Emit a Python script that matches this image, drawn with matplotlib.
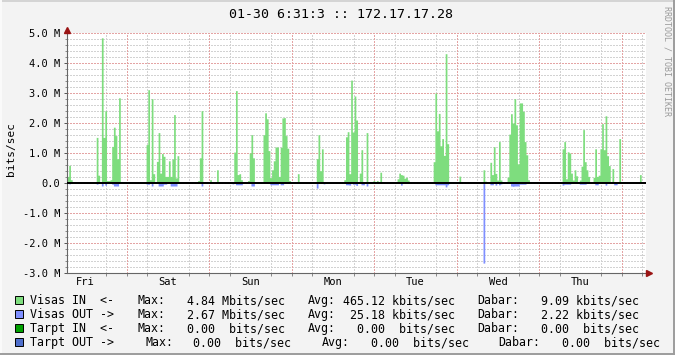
import matplotlib
matplotlib.use("Agg")
import matplotlib.pyplot as plt
import numpy as np
from matplotlib.lines import Line2D
from matplotlib.patches import Rectangle
from matplotlib.ticker import FixedLocator, FuncFormatter, MultipleLocator
from matplotlib.transforms import offset_copy

# half-hour slots counted from the left edge of the graph, values in Mbit/s
IN_SLOTS = [0, 1, 2, 17, 18, 20, 21, 22, 23, 24, 25, 26, 27, 28, 29, 30, 35,
            46, 47, 48, 49, 50, 51, 52, 53, 54, 55, 56, 57, 58, 59, 60, 61, 62, 63, 64,
            76, 77, 78, 83, 87,
            95, 97, 98, 99, 100, 101, 105, 106, 107, 108,
            114, 115, 116, 117, 118, 119, 120, 121, 122, 123, 124, 125, 126, 127, 128, 129,
            134, 145, 146, 147, 148,
            161, 162, 163, 164, 165, 166, 167, 168, 170, 171, 174, 178, 180, 182,
            192, 193, 194, 195, 196, 197, 198,
            213, 214, 215, 216, 217, 218, 219, 220, 221, 228,
            242, 243, 246, 247, 248, 249, 250, 251, 252,
            256, 257, 258, 259, 260, 261, 262, 263, 264, 265, 266, 267, 268,
            288, 289, 290, 291, 292, 293, 294, 295, 296, 298, 299, 300, 301, 302, 303,
            306, 307, 308, 309, 310, 311, 312, 313, 314, 315, 317, 321, 333]
IN_MBITS = [0.22, 0.59, 0.11, 1.52, 0.26, 4.84, 1.52, 2.41, 0.08, 0.08, 0.11, 1.22, 1.86, 1.58, 0.81, 2.84, 0.05,
            1.28, 3.11, 0.11, 2.81, 0.31, 0.05, 0.72, 1.68, 0.33, 0.98, 0.89, 0.22, 0.22, 0.74, 0.22, 0.80, 2.28, 0.17, 0.91,
            0.08, 0.84, 2.41, 0.11, 0.44,
            0.05, 1.03, 3.08, 0.28, 0.31, 0.11, 0.08, 1.00, 1.61, 0.84,
            1.61, 2.34, 2.14, 1.08, 0.18, 0.44, 0.74, 1.20, 1.20, 0.22, 1.19, 2.17, 2.18, 1.58, 1.16, 0.08,
            0.31, 0.81, 1.61, 0.41, 1.14,
            0.11, 1.54, 1.71, 0.31, 3.43, 1.70, 2.90, 2.10, 0.33, 1.11, 1.68, 0.08, 0.08, 0.36,
            0.14, 0.33, 0.28, 0.26, 0.16, 0.19, 0.10,
            0.71, 3.00, 1.74, 2.32, 1.24, 1.48, 0.92, 4.31, 1.31, 0.23,
            0.44, 0.06, 0.69, 0.28, 1.21, 0.32, 0.10, 1.38, 0.10,
            0.20, 1.63, 2.31, 2.00, 2.81, 1.94, 0.64, 2.67, 2.67, 2.39, 1.38, 0.94, 0.11,
            1.14, 1.38, 0.14, 1.04, 1.00, 0.33, 0.10, 0.44, 0.24, 0.10, 0.56, 1.78, 0.71, 0.44, 0.22,
            0.19, 1.14, 0.22, 0.26, 1.14, 1.98, 1.11, 2.24, 0.91, 0.58, 0.48, 1.48, 0.28]

OUT_SLOTS = [1, 17, 20, 22, 26, 27, 28, 29, 46, 47, 49, 53, 54, 55, 56, 57, 60, 61, 62, 63, 78,
             96, 98, 99, 100, 101, 107, 108, 118, 119, 120, 121, 122, 124, 125,
             145, 149, 162, 163, 164, 166, 167, 168, 171, 172, 174, 194,
             214, 215, 216, 217, 218, 219, 220, 221,
             242, 246, 247, 249, 251, 252, 258, 259, 260, 261, 262, 263, 264, 265, 266,
             288, 289, 290, 291, 292, 298, 299, 300, 301, 307, 308, 313, 318, 319]
OUT_MBITS = [0.03, 0.04, 0.10, 0.07, 0.04, 0.10, 0.10, 0.10, 0.04, 0.04, 0.10, 0.10, 0.10, 0.10, 0.04, 0.04, 0.10, 0.10, 0.10, 0.10, 0.10,
             0.03, 0.06, 0.06, 0.06, 0.06, 0.10, 0.10, 0.06, 0.06, 0.06, 0.06, 0.06, 0.06, 0.06,
             0.17, 0.03, 0.06, 0.06, 0.07, 0.04, 0.04, 0.08, 0.06, 0.06, 0.10, 0.07,
             0.06, 0.06, 0.06, 0.06, 0.06, 0.06, 0.13, 0.06,
             2.67, 0.06, 0.06, 0.07, 0.06, 0.03, 0.10, 0.11, 0.10, 0.10, 0.10, 0.04, 0.04, 0.04, 0.04,
             0.07, 0.04, 0.04, 0.04, 0.04, 0.04, 0.04, 0.04, 0.04, 0.06, 0.06, 0.07, 0.06, 0.06]

DAY_NAMES = ["Fri", "Sat", "Sun", "Mon", "Tue", "Wed", "Thu"]
FIRST_MIDNIGHT_H = 17.37
SPAN_H = 168.4
SLOT_H = 0.5

TITLE = "01-30 6:31:3 :: 172.17.17.28"
LEGEND_LABELS = ["Visas IN  <-", "Visas OUT ->", "Tarpt IN  <-", "Tarpt OUT ->"]
LEGEND_COLORS = ["#7edd7e", "#7f8fff", "#00a000", "#4f6fcc"]
MAX_TXT = ["4.84 Mbits/sec", "2.67 Mbits/sec", "0.00  bits/sec", "0.00  bits/sec"]
AVG_TXT = ["465.12 kbits/sec", " 25.18 kbits/sec", "  0.00  bits/sec", "  0.00  bits/sec"]
DABAR_TXT = ["9.09 kbits/sec", "2.22 kbits/sec", "0.00  bits/sec", "0.00  bits/sec"]

W, H = 675, 355
MONO = "DejaVu Sans Mono"
plt.rcParams["font.family"] = MONO


def fx(px):
    return px / W


def fy(py):
    return 1 - py / H


fig = plt.figure(figsize=(W / 100, H / 100), dpi=100, facecolor="#f3f3f3")
ax = fig.add_axes([fx(67), 82 / H, 579 / W, 240 / H])
ax.set_facecolor("white")

n_slots = int(np.ceil(SPAN_H / SLOT_H))
edges = np.arange(n_slots + 1) * SLOT_H
v_in = np.zeros(n_slots)
v_in[IN_SLOTS] = IN_MBITS
v_out = np.zeros(n_slots)
v_out[OUT_SLOTS] = OUT_MBITS

ax.fill_between(edges, np.append(v_in, v_in[-1]), step="post",
                color=LEGEND_COLORS[0], lw=0, antialiased=False, zorder=2)
ax.fill_between(edges, -np.append(v_out, v_out[-1]), step="post",
                color=LEGEND_COLORS[1], lw=0, antialiased=False, zorder=2)
ax.axhline(0, color="black", lw=1.4, zorder=4, antialiased=False)

ax.set_xlim(0, SPAN_H)
ax.set_ylim(-3, 5)

# grid (no antialiasing, otherwise the 1px dotted lines fade away)
dotted = (0, (0.75, 1.25))
ax.yaxis.set_major_locator(MultipleLocator(1))
ax.yaxis.set_minor_locator(MultipleLocator(0.2))
ax.yaxis.set_major_formatter(FuncFormatter(lambda v, _: "0.0" if v == 0 else f"{v:.1f} M"))
midnights = FIRST_MIDNIGHT_H + 24 * np.arange(len(DAY_NAMES))
noons = midnights - 12
ax.xaxis.set_minor_locator(FixedLocator(np.arange(FIRST_MIDNIGHT_H % 6, SPAN_H, 6)))
ax.set_xticks(noons)
ax.set_xticklabels(DAY_NAMES)
ax.set_axisbelow(True)
ax.grid(which="minor", axis="both", color="#d2d2d2", ls=dotted, lw=1.0, antialiased=False)
ax.grid(which="major", axis="y", color="#e4a4a4", ls=dotted, lw=1.0, antialiased=False)
for m in midnights:
    ax.axvline(m, color="#e4a4a4", ls=dotted, lw=1.0, zorder=1, antialiased=False)

ax.tick_params(axis="y", which="major", length=2.5, width=0.7, color="#555555",
               pad=2.5, labelsize=7.5)
ax.tick_params(axis="y", which="minor", length=1.2, width=0.6, color="#777777")
ax.tick_params(axis="x", which="major", length=0, pad=3, labelsize=7.5)
ax.tick_params(axis="x", which="minor", length=1.8, width=0.6, color="#777777")

for side in ("top", "right"):
    ax.spines[side].set_visible(False)
for side in ("left", "bottom"):
    ax.spines[side].set_color("#666666")
    ax.spines[side].set_linewidth(0.8)

# arrows at the axis ends
ax.plot(0, 1, marker="^", ms=4, color="#9a1414", clip_on=False, zorder=5,
        transform=offset_copy(ax.transAxes, fig=fig, y=3, units="dots"))
ax.plot(1, 0, marker=">", ms=4, color="#9a1414", clip_on=False, zorder=5,
        transform=offset_copy(ax.transAxes, fig=fig, x=3, units="dots"))

# texts
fig.text(fx(341), fy(18), TITLE, ha="center", va="baseline", fontsize=9.5)
fig.text(fx(11), fy(149), "bits/sec", rotation=90, ha="center", va="center", fontsize=8)
fig.text(fx(667), fy(61), "RRDTOOL / TOBI OETIKER", rotation=270, ha="center",
         va="center", fontsize=6, color="#9a9a9a")

# legend
row_base = [304, 318, 332, 346]
cols_std = [137, 186.7, 308, 343, 477.7, 540.7]
cols_last = [145, 193.3, 321.7, 356.7, 498.3, 561.7]
for i, label in enumerate(LEGEND_LABELS):
    yb = row_base[i]
    fig.add_artist(Rectangle((fx(15), fy(yb)), 8 / W, 8 / H, facecolor=LEGEND_COLORS[i],
                             edgecolor="black", lw=0.7))
    cols = cols_last if i == 3 else cols_std
    parts = [label, "Max:", MAX_TXT[i], "Avg:", AVG_TXT[i], "Dabar:", DABAR_TXT[i]]
    for x, s in zip([30] + cols, parts):
        fig.text(fx(x), fy(yb), s, ha="left", va="baseline", fontsize=8.4, color="black")

# 3d-ish frame around the image
fig.add_artist(Line2D([0, 1], [fy(1), fy(1)], color="#d4d4d4", lw=1.4))
fig.add_artist(Line2D([fx(1), fx(1)], [0, 1], color="#fbfbfb", lw=1.4))
fig.add_artist(Line2D([0, 1], [fy(354), fy(354)], color="#9c9c9c", lw=1.4))
fig.add_artist(Line2D([fx(674), fx(674)], [0, 1], color="#9c9c9c", lw=1.4))

fig.savefig("out.png", dpi=100, facecolor=fig.get_facecolor())
